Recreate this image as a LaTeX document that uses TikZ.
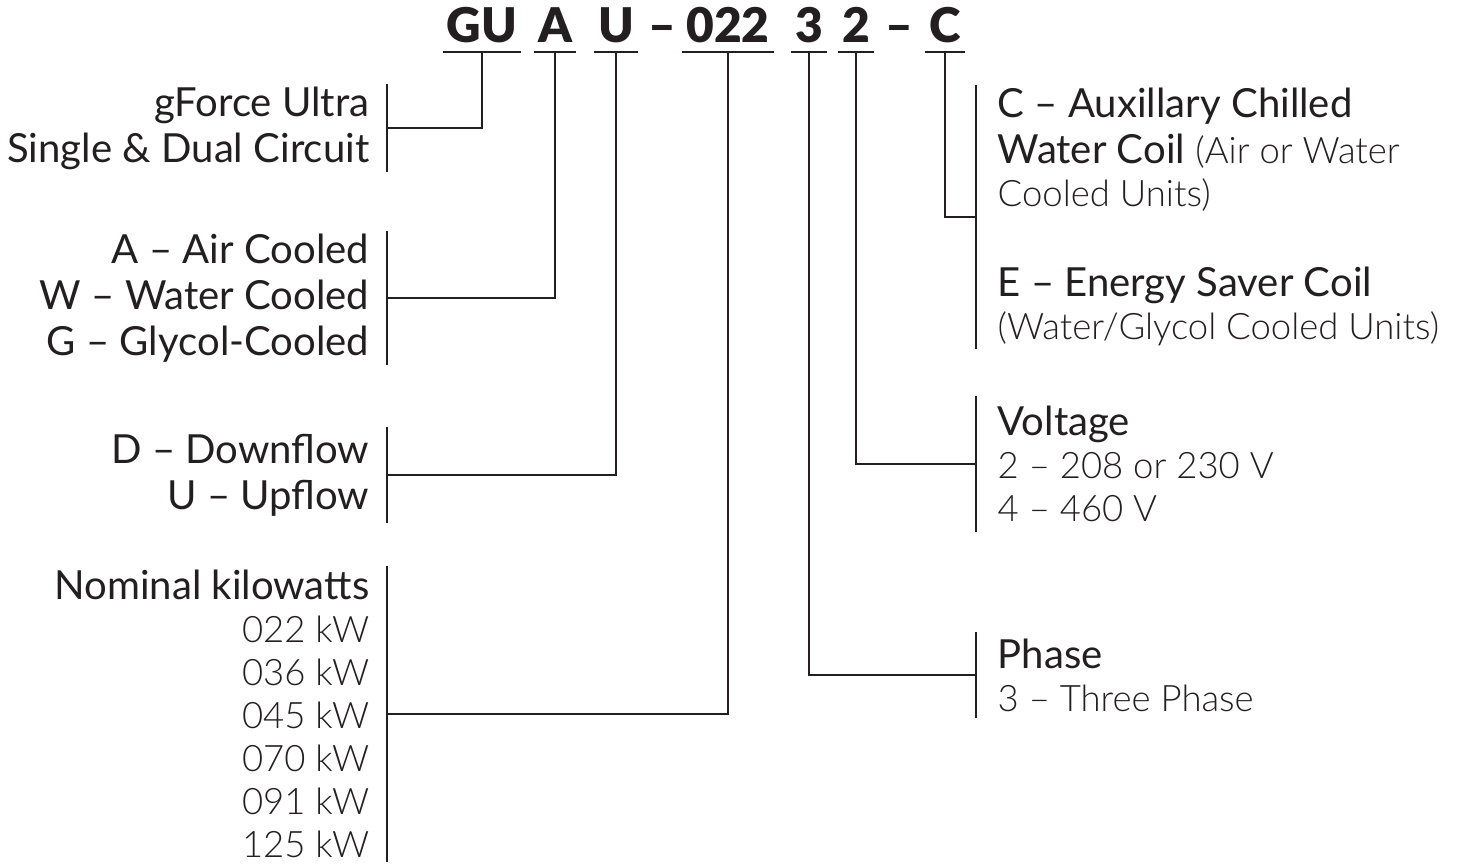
\documentclass[tikz,border=0pt]{standalone}
\usepackage{fontspec}
\setmainfont{Lato}
\newfontfamily\lightfont{Lato Light}[Scale=0.91]
\newfontfamily\codefont{Lato Black}
\usetikzlibrary{positioning}
\definecolor{ink}{HTML}{231F20}

\begin{document}
\begin{tikzpicture}[x=0.01cm, y=-0.01cm,
  code/.style={font=\codefont\fontsize{13.6}{15}\selectfont, text=ink, anchor=base, inner xsep=1pt, inner ysep=0pt},
  wire/.style={draw=ink, line width=0.8pt},
  lbox/.style={anchor=east, align=right, text=ink, inner xsep=0.17cm, inner ysep=0.5pt, font=\fontsize{11.4}{13.1}\selectfont},
  rbox/.style={anchor=west, align=left, text=ink, inner xsep=0.21cm, inner ysep=0.5pt, font=\fontsize{11.4}{12.24}\selectfont}]
  \useasboundingbox (0,0) rectangle (1469,866);
  % model code
  \foreach \nm/\txt/\x in {gu/GU/482, a/A/555, u/U/616, kw/022/728, ph/3/809, vo/2/856, cx/C/945} {
    \node[code] (\nm) at (\x,42) {\txt};
    \draw[wire] ([yshift=-0.1cm]\nm.base west) -- ([yshift=-0.1cm]\nm.base east);
    \coordinate (\nm-u) at ([yshift=-0.1cm]\nm.base);
  }
  \node[code] (d1) at (662,42) {\textendash};
  \node[code] (d2) at (899,42) {\textendash};
  % left side
  \node[lbox] (gforce) at (387,128) {gForce Ultra\\ Single \& Dual Circuit};
  \node[lbox] (cool) at (387,298) {A \textendash{} Air Cooled\\ W \textendash{} Water Cooled\\ G \textendash{} Glycol-Cooled};
  \node[lbox, inner ysep=0.06cm] (flow) at (387,475) {D \textendash{} Downflow\\ U \textendash{} Upflow};
  \node[lbox, font=\fontsize{11.4}{12.24}\selectfont, inner ysep=0.03cm] (size) at (387,714) {Nominal kilowatts\\ {\lightfont 022 kW}\\ {\lightfont 036 kW}\\ {\lightfont 045 kW}\\ {\lightfont 070 kW}\\ {\lightfont 091 kW}\\ {\lightfont 125 kW}};
  % right side
  \node[rbox] (coil) at (976,217) {C \textendash{} Auxillary Chilled\\[0.9pt] Water Coil {\lightfont (Air or Water}\\ {\lightfont Cooled Units)}\\[13.4pt] E \textendash{} Energy Saver Coil\\ {\lightfont (Water/Glycol Cooled Units)}};
  \node[rbox, inner ysep=0.09cm] (volt) at (976,464) {Voltage\\ {\lightfont 2 \textendash{} 208 or 230 V}\\ {\lightfont 4 \textendash{} 460 V}};
  \node[rbox, inner ysep=0.06cm] (phase) at (976,675) {Phase\\ {\lightfont 3 \textendash{} Three Phase}};
  % brackets
  \foreach \nm in {gforce, cool, flow, size}
    \draw[wire] (\nm.north east) -- (\nm.south east);
  \foreach \nm in {coil, volt, phase}
    \draw[wire] (\nm.north west) -- (\nm.south west);
  % connectors
  \draw[wire] (gu-u) |- (gforce.east);
  \draw[wire] (a-u) |- (cool.east);
  \draw[wire] (u-u) |- (flow.east);
  \draw[wire] (kw-u) |- (size.east);
  \draw[wire] (ph-u) |- (phase.west);
  \draw[wire] (vo-u) |- (volt.west);
  \draw[wire] (cx-u) |- (coil.west);
\end{tikzpicture}
\end{document}
